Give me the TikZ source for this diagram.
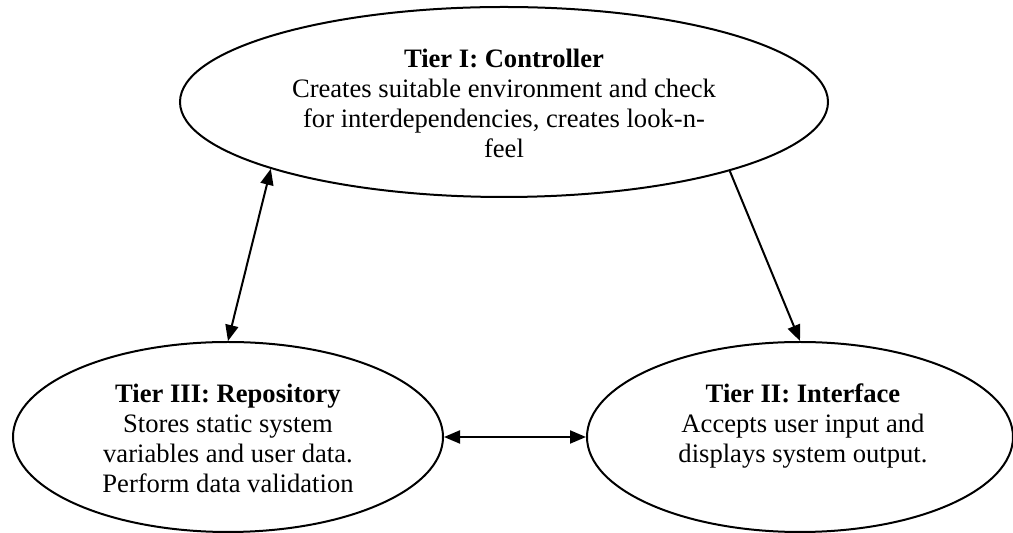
\documentclass[tikz,border=0pt]{standalone}
\usepackage{fontspec}
\setmainfont{Liberation Serif}
\usetikzlibrary{shapes.geometric,arrows.meta}
\begin{document}
\begin{tikzpicture}[x=0.5pt,y=-0.5pt,
  tier/.style={ellipse,draw,line width=1pt,inner sep=0pt},
  txt/.style={align=center,inner sep=0pt,anchor=base,font=\fontsize{13.3}{15}\selectfont},
  tip/.style={Triangle[length=8pt,width=6.5pt]},
  link/.style={line width=1pt,-{Triangle[length=8pt,width=6.5pt]}},
  dlink/.style={line width=1pt,{Triangle[length=8pt,width=6.5pt]}-{Triangle[length=8pt,width=6.5pt]}}]
\useasboundingbox (0,0) rectangle (1013,533);
\node[tier,minimum width=324pt,minimum height=95pt] (ctrl) at (504,102) {};
\node[tier,minimum width=215pt,minimum height=95pt] (repo) at (228,437) {};
\node[tier,minimum width=213pt,minimum height=95pt] (intf) at (800,437) {};
\node[txt] (ctrltext) at (504,158) {\textbf{Tier I: Controller}\\Creates suitable environment and check\\for interdependencies, creates look-n-\\feel};
\node[txt] (repotext) at (228,493) {\textbf{Tier III: Repository}\\Stores static system\\variables and user data.\\Perform data validation};
\node[txt] (intftext) at (803,463) {\textbf{Tier II: Interface}\\Accepts user input and\\displays system output.};
\draw[dlink] (ctrl.196) -- (repo.north);
\draw[link] (ctrl.343.5) -- (intf.north);
\draw[dlink] (repo.east) -- (intf.west);
\end{tikzpicture}
\end{document}
